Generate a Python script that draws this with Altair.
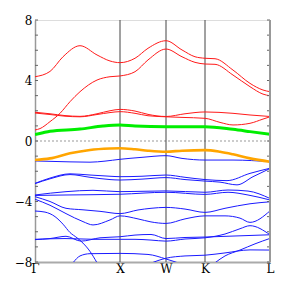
import altair as alt
import pandas as pd

# k-path
k_labels = ["Γ", "X", "W", "K", "L"]
k_pos = [0, 85, 131, 170, 235]

# conduction bands (red)
r1_x = [0, 15, 28, 45, 62, 75, 85, 100, 113, 131, 147, 160, 170, 180, 198, 215, 228, 235]
r1_e = [4.25, 4.6, 5.57, 6.3, 5.69, 5.29, 5.18, 5.47, 6.13, 6.63, 6.02, 5.57, 5.47, 5.44, 4.69, 3.81, 3.37, 3.26]
r2_x = [0, 5, 15, 25, 35, 45, 62, 75, 85, 100, 113, 131, 147, 160, 170, 180, 198, 215, 228, 235]
r2_e = [0.73, 0.82, 1.28, 1.83, 2.6, 3.26, 4.03, 4.25, 4.3, 4.58, 5.36, 6.08, 5.57, 5.2, 5.09, 5.07, 4.36, 3.59, 3.1, 2.99]
r3_x = [0, 15, 30, 45, 62, 75, 85, 100, 113, 131, 150, 170, 198, 215, 235]
r3_e = [1.9, 1.8, 1.68, 1.63, 1.8, 2.0, 2.09, 1.98, 1.76, 1.62, 1.8, 1.92, 1.83, 1.72, 1.62]
r4_x = [0, 15, 30, 45, 62, 75, 85, 100, 113, 131, 147, 170, 185, 198, 215, 228, 235]
r4_e = [1.85, 1.75, 1.64, 1.6, 1.75, 1.88, 1.94, 1.83, 1.67, 1.6, 1.56, 1.5, 1.23, 1.06, 1.17, 1.45, 1.6]

# lowest conduction band (green)
g_x = [0, 8, 15, 45, 68, 85, 100, 131, 170, 198, 215, 235]
g_e = [0.42, 0.55, 0.65, 0.79, 0.99, 1.06, 0.99, 0.95, 0.95, 0.77, 0.62, 0.44]

# highest valence band (orange)
o_x = [0, 15, 35, 55, 75, 85, 100, 113, 131, 147, 170, 185, 198, 215, 235]
o_e = [-1.26, -1.15, -0.81, -0.59, -0.5, -0.48, -0.55, -0.64, -0.71, -0.64, -0.6, -0.71, -0.88, -1.15, -1.37]

# valence bands (blue)
b1_x = [0, 35, 55, 70, 85, 107, 131, 147, 170, 198, 235]
b1_e = [-1.32, -1.38, -1.4, -1.33, -1.21, -1.08, -0.97, -1.15, -1.26, -1.26, -1.37]
b2_x = [0, 15, 35, 55, 75, 85, 107, 131, 150, 170, 192, 215, 235]
b2_e = [-2.8, -2.45, -2.17, -2.25, -2.33, -2.36, -2.33, -2.25, -2.4, -2.55, -2.62, -2.14, -1.8]
b3_x = [0, 15, 35, 55, 75, 85, 107, 131, 150, 170, 185, 202, 218, 235]
b3_e = [-2.82, -2.5, -2.22, -2.4, -2.55, -2.58, -2.52, -2.42, -2.55, -2.65, -2.72, -2.9, -2.36, -1.82]
b4_x = [0, 31, 58, 85, 131, 170, 193, 213, 235]
b4_e = [-3.57, -3.35, -3.26, -3.35, -3.3, -3.39, -3.24, -3.31, -3.8]
b5_x = [0, 31, 58, 85, 131, 170, 193, 213, 235]
b5_e = [-3.6, -3.57, -3.55, -3.52, -3.39, -3.53, -3.39, -3.57, -3.9]
b6_x = [0, 15, 31, 48, 65, 85, 103, 116, 131, 150, 170, 190, 215, 235]
b6_e = [-3.68, -4.0, -4.45, -4.55, -4.65, -4.8, -4.56, -4.45, -4.39, -4.5, -4.72, -4.45, -4.15, -4.02]
b7_x = [0, 15, 31, 48, 58, 75, 85, 103, 116, 131, 150, 170, 190, 205, 215, 235]
b7_e = [-3.85, -4.25, -4.8, -5.33, -5.55, -5.22, -4.95, -5.15, -5.35, -5.45, -5.15, -4.95, -4.95, -5.1, -5.38, -4.62]
b8_x = [0, 10, 20, 28, 35, 42, 48, 55, 62]
b8_e = [-4.63, -4.7, -5.0, -5.5, -6.05, -6.4, -6.75, -7.3, -8.05]
b9_x = [0, 30, 60, 85, 100, 116, 131, 150, 170, 190, 205, 215, 235]
b9_e = [-6.5, -6.45, -6.5, -6.5, -6.5, -6.55, -6.62, -6.48, -6.4, -6.15, -5.8, -5.6, -6.2]
b10_x = [0, 15, 31, 46, 65, 85, 100, 116, 131, 150, 170, 200, 235]
b10_e = [-6.52, -6.45, -6.3, -6.62, -6.4, -6.33, -6.22, -6.18, -6.45, -6.38, -6.35, -6.28, -6.2]
b11_x = [38, 45, 55, 85, 113, 131, 145]
b11_e = [-8.05, -7.6, -7.45, -7.43, -7.5, -7.8, -8.1]
b12_x = [115, 131, 150, 170, 190, 215, 235]
b12_e = [-8.1, -7.75, -7.6, -7.55, -7.4, -7.2, -7.21]
b13_x = [180, 190, 205, 220, 235]
b13_e = [-8.05, -7.6, -7.21, -6.8, -6.44]

bands = [
    ("r1", "cond", r1_x, r1_e), ("r2", "cond", r2_x, r2_e),
    ("r3", "cond", r3_x, r3_e), ("r4", "cond", r4_x, r4_e),
    ("g", "cbm", g_x, g_e), ("o", "vbm", o_x, o_e),
    ("b1", "val", b1_x, b1_e), ("b2", "val", b2_x, b2_e),
    ("b3", "val", b3_x, b3_e), ("b4", "val", b4_x, b4_e),
    ("b5", "val", b5_x, b5_e), ("b6", "val", b6_x, b6_e),
    ("b7", "val", b7_x, b7_e), ("b8", "val", b8_x, b8_e),
    ("b9", "val", b9_x, b9_e), ("b10", "val", b10_x, b10_e),
    ("b11", "val", b11_x, b11_e), ("b12", "val", b12_x, b12_e),
    ("b13", "val", b13_x, b13_e),
]
rows = []
for name, grp, xs, es in bands:
    for xv, ev in zip(xs, es):
        rows.append({"band": name, "group": grp, "k": xv, "E": ev})
df = pd.DataFrame(rows)

group_style = {
    "val": ("#1a1aff", 1.0),
    "cond": ("#ff1a1a", 1.0),
    "vbm": ("#ffa500", 2.6),
    "cbm": ("#00ee00", 3.0),
}

y_ticks = list(range(-8, 9, 2))
minor = list(range(-8, 9, 1))

xscale = alt.Scale(domain=[0, 235], nice=False, zero=False)
yscale = alt.Scale(domain=[-8, 8], nice=False, zero=False)

label_expr = "[" + ",".join("'%s'" % l for l in k_labels) + "][indexof([" + ",".join(str(p) for p in k_pos) + "], datum.value)]"

font = "DejaVu Serif"

xenc = alt.X("k:Q", scale=xscale, title=None,
             axis=alt.Axis(values=k_pos, labelExpr=label_expr, tickSize=0, labelFlush=False,
                           labelOverlap=False, labelFont=font, labelFontSize=12, labelColor="black",
                           labelPadding=1, domainColor="#aaaaaa", domainWidth=2, grid=False))
yenc = alt.Y("E:Q", scale=yscale, title=None,
             axis=alt.Axis(values=y_ticks, tickSize=0, labelFlush=False, labelOverlap=False,
                           labelFont=font, labelFontSize=12, labelColor="black", labelPadding=3,
                           domainColor="#999999", domainWidth=1.5, grid=False))

band_layers = []
for grp in ["val", "cond", "vbm", "cbm"]:
    col, sw = group_style[grp]
    band_layers.append(
        alt.Chart(df).transform_filter(alt.datum.group == grp)
        .mark_line(interpolate="monotone", clip=True, color=col, strokeWidth=sw)
        .encode(x=xenc, y=yenc, detail="band:N")
    )

kdf = pd.DataFrame({"k": k_pos[1:4]})
vlines = alt.Chart(kdf).mark_rule(color="#444444", strokeWidth=1).encode(x=alt.X("k:Q", scale=xscale))

zero = alt.Chart(pd.DataFrame({"E": [0]})).mark_rule(color="#999999", strokeDash=[2, 2], strokeWidth=1).encode(
    y=alt.Y("E:Q", scale=yscale))

right = alt.Chart(pd.DataFrame({"k": [k_pos[-1]]})).mark_rule(color="#999999", strokeWidth=2).encode(
    x=alt.X("k:Q", scale=xscale))

tdf = pd.DataFrame({"E": minor})
lticks = alt.Chart(tdf).mark_rule(color="#666666", strokeWidth=1).encode(
    y=alt.Y("E:Q", scale=yscale), x=alt.datum(0), x2=alt.datum(3))
rticks = alt.Chart(tdf).mark_rule(color="#666666", strokeWidth=1).encode(
    y=alt.Y("E:Q", scale=yscale), x=alt.datum(232), x2=alt.datum(235))

chart = alt.layer(zero, vlines, *band_layers, lticks, rticks, right).properties(
    width=235, height=242,
    autosize=alt.AutoSizeParams(type="none"),
    padding={"left": 27, "top": 12, "right": 13, "bottom": 21},
).configure_view(stroke="#444444", strokeWidth=1).configure(background="white")

chart.save("out.html", embed_options={"renderer": "svg", "actions": False})
